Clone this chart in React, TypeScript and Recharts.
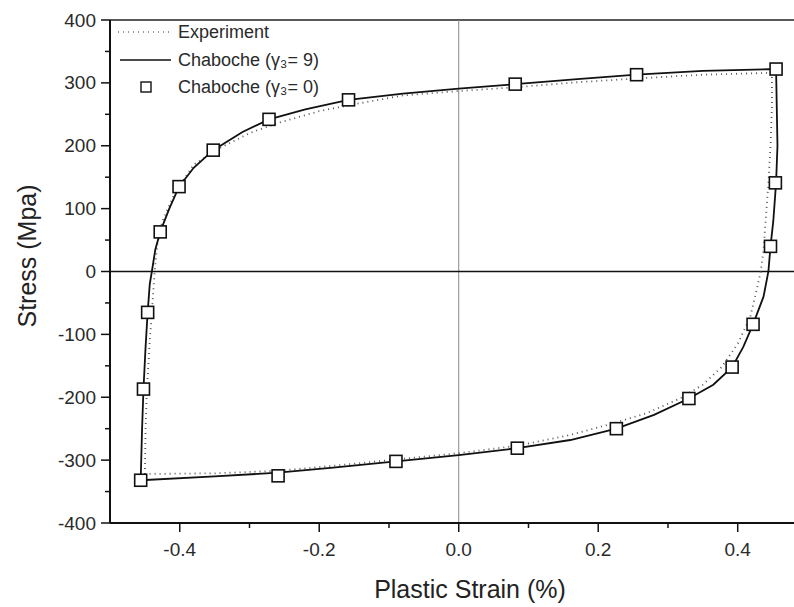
import React from 'react';
import { ComposedChart, Line, Scatter, XAxis, YAxis, ReferenceLine } from 'recharts';

// Experiment loop (dotted)
const experimentPts: [number, number][] = [
  [-0.45, -322], [-0.449, -250], [-0.447, -187], [-0.443, -110], [-0.44, -65], [-0.436, 0],
  [-0.432, 45], [-0.425, 80], [-0.407, 125], [-0.38, 170], [-0.345, 195], [-0.3, 220],
  [-0.26, 236], [-0.2, 255], [-0.15, 266], [-0.08, 280], [0, 287], [0.081, 293],
  [0.17, 301], [0.255, 307], [0.35, 313], [0.449, 316],
  [0.449, 260], [0.447, 200], [0.444, 140], [0.44, 80], [0.437, 34], [0.433, 0],
  [0.426, -35], [0.418, -72], [0.4, -115], [0.377, -152], [0.35, -180], [0.317, -202],
  [0.27, -225], [0.226, -240], [0.16, -260], [0.084, -277], [0, -289], [-0.09, -299],
  [-0.18, -309], [-0.26, -317], [-0.35, -321], [-0.45, -322],
];

// Chaboche gamma = 9 (solid)
const chaboche9Pts: [number, number][] = [
  [-0.456, -332], [-0.454, -250], [-0.452, -187], [-0.449, -120], [-0.446, -65], [-0.443, -20],
  [-0.44, 0], [-0.435, 35], [-0.428, 63], [-0.415, 100], [-0.401, 135], [-0.38, 165],
  [-0.352, 193], [-0.31, 222], [-0.272, 242], [-0.22, 258], [-0.158, 273], [-0.08, 283],
  [0, 291], [0.081, 298], [0.17, 306], [0.255, 313], [0.35, 319], [0.455, 322],
  [0.457, 200], [0.455, 141], [0.451, 80], [0.447, 40], [0.444, 0], [0.437, -40],
  [0.422, -84], [0.408, -120], [0.392, -152], [0.365, -180], [0.33, -202], [0.28, -228],
  [0.226, -250], [0.16, -268], [0.084, -281], [0, -292], [-0.09, -302], [-0.18, -312],
  [-0.259, -320], [-0.35, -326], [-0.456, -332],
];

// Chaboche gamma = 0 (squares)
const chaboche0Pts: [number, number][] = [
  [-0.452, -187], [-0.446, -65], [-0.428, 63], [-0.401, 135], [-0.352, 193], [-0.272, 242],
  [-0.158, 273], [0.081, 298], [0.255, 313], [0.455, 322],
  [0.454, 141], [0.447, 40], [0.422, -84], [0.392, -152], [0.33, -202], [0.226, -250],
  [0.084, -281], [-0.09, -302], [-0.259, -325], [-0.456, -332],
];

const xTicks = [-0.4, -0.3, -0.2, -0.1, 0, 0.1, 0.2, 0.3, 0.4];
const yTicks = [-400, -350, -300, -250, -200, -150, -100, -50, 0, 50, 100, 150, 200, 250, 300, 350, 400];

const toRows = (pts: [number, number][]) => pts.map(([x, y]) => ({ x, y }));

const FONT = '"Liberation Sans", Arial, sans-serif';

const XTick = ({ x, y, payload }: any) => {
  const v = payload.value;
  const major = Math.abs(Math.round(v * 10)) % 2 === 0;
  return (
    <g>
      <line x1={x} x2={x} y1={y} y2={y + (major ? 9 : 5)} stroke="#111" strokeWidth={1.5} />
      {major && (
        <text x={x} y={y + 26} textAnchor="middle" dominantBaseline="central" fontSize={19} fill="#2a2a2a" fontFamily={FONT}>
          {v.toFixed(1)}
        </text>
      )}
    </g>
  );
};

const YTick = ({ x, y, payload }: any) => {
  const v = payload.value;
  const major = v % 100 === 0;
  return (
    <g>
      <line x1={x - (major ? 9 : 5)} x2={x} y1={y} y2={y} stroke="#111" strokeWidth={1.5} />
      {major && (
        <text x={x - 14} y={y} textAnchor="end" dominantBaseline="central" fontSize={19} fill="#2a2a2a" fontFamily={FONT}>
          {v}
        </text>
      )}
    </g>
  );
};

const Square = ({ cx, cy }: any) => (
  <rect x={cx - 6} y={cy - 6} width={12} height={12} fill="#fff" stroke="#111" strokeWidth={1.6} />
);

export default function App() {
  return (
    <div style={{ position: 'absolute', left: 0, top: 0, width: 794, height: 607, background: '#fff' }}>
      <ComposedChart width={794} height={607} margin={{ top: 20, right: 0, left: 0, bottom: 0 }}>
        <XAxis
          dataKey="x"
          type="number"
          domain={[-0.5, 0.4807]}
          ticks={xTicks}
          interval={0}
          tickSize={0}
          tickMargin={0}
          tickLine={false}
          tick={<XTick />}
          axisLine={{ stroke: '#111', strokeWidth: 2 }}
          height={84}
          allowDataOverflow
        />
        <YAxis
          dataKey="y"
          type="number"
          domain={[-400, 400]}
          ticks={yTicks}
          interval={0}
          tickSize={0}
          tickMargin={0}
          tickLine={false}
          tick={<YTick />}
          axisLine={{ stroke: '#111', strokeWidth: 2 }}
          width={110}
        />
        <ReferenceLine y={400} stroke="#222" strokeWidth={1.5} />
        <ReferenceLine x={0} stroke="#888" strokeWidth={1} />
        <ReferenceLine y={0} stroke="#111" strokeWidth={1.5} />
        <Line
          data={toRows(experimentPts)}
          dataKey="y"
          type="linear"
          dot={false}
          stroke="#555"
          strokeWidth={1.8}
          strokeDasharray="1 4"
          isAnimationActive={false}
        />
        <Line
          data={toRows(chaboche9Pts)}
          dataKey="y"
          type="linear"
          dot={false}
          stroke="#111"
          strokeWidth={1.8}
          isAnimationActive={false}
        />
        <Scatter data={toRows(chaboche0Pts)} dataKey="y" shape={<Square />} isAnimationActive={false} />
      </ComposedChart>
      <svg width={794} height={607} style={{ position: 'absolute', left: 0, top: 0, pointerEvents: 'none' }}>
        <g fontFamily={FONT} fontSize={18} fill="#2a2a2a">
          <line x1={118} x2={170} y1={32} y2={32} stroke="#777" strokeWidth={1.4} strokeDasharray="1 4" />
          <text x={178} y={32} dominantBaseline="central">Experiment</text>
          <line x1={120} x2={171} y1={60} y2={60} stroke="#111" strokeWidth={1.6} />
          <text x={178} y={60} dominantBaseline="central">Chaboche (γ₃= 9)</text>
          <rect x={141} y={82} width={10} height={10} fill="#fff" stroke="#111" strokeWidth={1.4} />
          <text x={178} y={87} dominantBaseline="central">Chaboche (γ₃= 0)</text>
        </g>
        <text x={470} y={589} textAnchor="middle" dominantBaseline="central" fontSize={25} fill="#222" fontFamily={FONT}>
          Plastic Strain (%)
        </text>
        <text
          x={27}
          y={256}
          textAnchor="middle"
          dominantBaseline="central"
          fontSize={25}
          fill="#222"
          fontFamily={FONT}
          transform="rotate(-90 27 256)"
        >
          Stress (Mpa)
        </text>
      </svg>
    </div>
  );
}
